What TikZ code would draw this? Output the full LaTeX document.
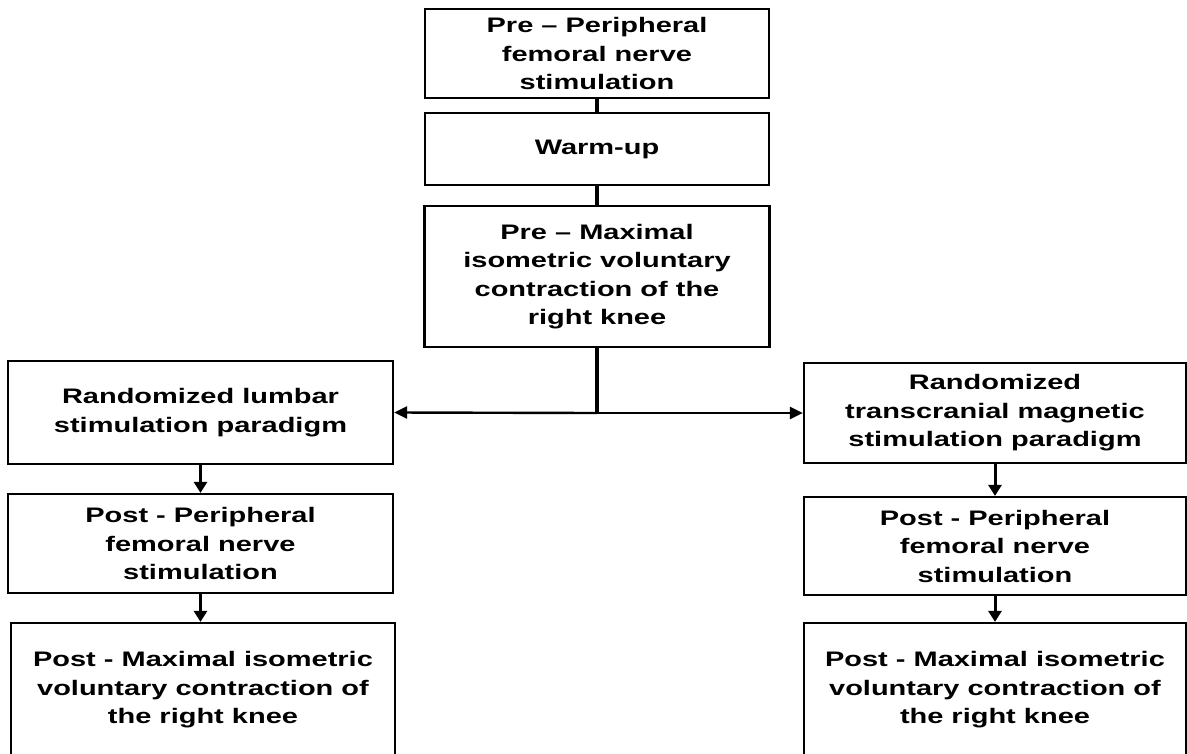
\documentclass[tikz,border=0pt]{standalone}
\usepackage{fontspec}
\newfontfamily\boxfont{Liberation Sans}[FakeStretch=1.38]
\usetikzlibrary{arrows.meta}
\begin{document}
\begin{tikzpicture}[x=1pt,y=-1pt,
  stepbox/.style={draw, line width=2.2pt, inner sep=0pt, align=center,
    font=\boxfont\bfseries\fontsize{21}{28.5}\selectfont},
  thickline/.style={line width=3.6pt},
  arr/.style={line width=3pt, -{Triangle[length=11pt,width=13pt]}},
  harr/.style={line width=2.4pt, -{Triangle[length=13pt,width=12pt]}}]
\useasboundingbox (0,0) rectangle (1187,753);
\clip (0,0) rectangle (1187,753);
\fill[white] (0,0) rectangle (1187,753);
\node[stepbox, minimum width=344pt, minimum height=89pt] (b1) at (597,53.5)
  {Pre – Peripheral\\femoral nerve\\stimulation};
\node[stepbox, minimum width=344pt, minimum height=72pt] (b2) at (597,149)
  {Warm-up};
\node[stepbox, minimum width=345pt, minimum height=141pt] (b3) at (597,276.5)
  {Pre – Maximal\\isometric voluntary\\contraction of the\\right knee};
\node[stepbox, minimum width=385pt, minimum height=103pt] (L1) at (200.5,412.5)
  {Randomized lumbar\\stimulation paradigm};
\node[stepbox, minimum width=385pt, minimum height=99pt] (L2) at (200.5,543.5)
  {Post - Peripheral\\femoral nerve\\stimulation};
\node[stepbox, minimum width=384pt, minimum height=134pt] (L3) at (203,690)
  {Post - Maximal isometric\\voluntary contraction of\\the right knee};
\node[stepbox, minimum width=382pt, minimum height=100pt] (R1) at (995,413)
  {Randomized\\transcranial magnetic\\stimulation paradigm};
\node[stepbox, minimum width=382pt, minimum height=98pt] (R2) at (995,546)
  {Post - Peripheral\\femoral nerve\\stimulation};
\node[stepbox, minimum width=382pt, minimum height=134pt] (R3) at (995,690)
  {Post - Maximal isometric\\voluntary contraction of\\the right knee};
\coordinate (j) at (597,413);
\draw[thickline] (b1.south) -- (b2.north);
\draw[thickline] (b2.south) -- (b3.north);
\draw[thickline] (b3.south) -- (j);
\draw[harr] (j) -- (L1.east);
\draw[harr] (j) -- (R1.west);
\draw[arr] (L1.south) -- (L2.north);
\draw[arr] (L2.south) -- (L2.south |- L3.north);
\draw[arr] (R1.south) -- (R2.north);
\draw[arr] (R2.south) -- (R3.north);
\end{tikzpicture}
\end{document}
